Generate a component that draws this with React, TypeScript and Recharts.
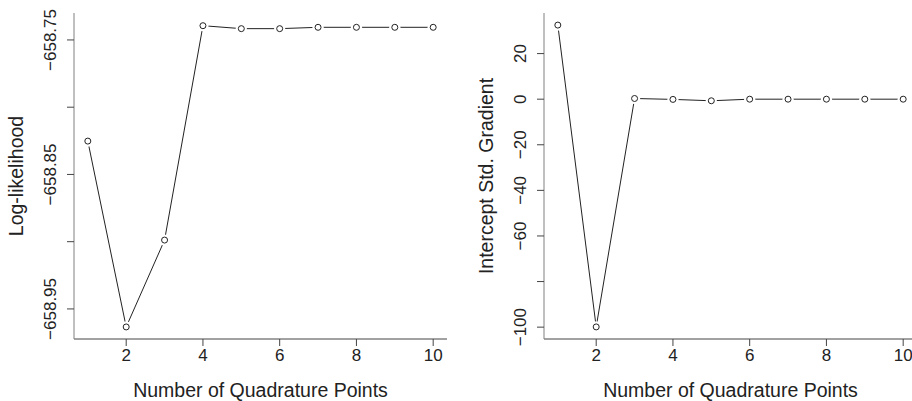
import React from "react";
import { LineChart, Line, XAxis, YAxis } from "recharts";

const quadPoints = [1, 2, 3, 4, 5, 6, 7, 8, 9, 10];
const logLik = [
  -658.8252, -658.9634, -658.8988, -658.7394, -658.7416, -658.7416, -658.7406, -658.7406,
  -658.7406, -658.7406,
];
const gradient = [32.5, -99.9, 0.3, -0.1, -0.7, 0, 0, 0, 0, 0];

const xTicks = [2, 4, 6, 8, 10];
const llTicks = [-658.95, -658.9, -658.85, -658.8, -658.75];
const llLabelled = [-658.95, -658.85, -658.75];
const gradTicks = [-100, -80, -60, -40, -20, 0, 20];
const gradLabelled = [-100, -60, -40, -20, 0, 20];

const FONT = '"Liberation Sans", Arial, Helvetica, sans-serif';
const TEXT = "#222";
const AXIS = "#444";
const BOX = "#808080";
const TITLE_SIZE = 19.5;

const llData = quadPoints.map((q, i) => ({ q, v: logLik[i] }));
const gradData = quadPoints.map((q, i) => ({ q, v: gradient[i] }));

const fmt = (v: number, digits: number) => v.toFixed(digits).replace("-", "\u2212");

function makeYTick(labelled: number[], digits: number) {
  return (props: any) => {
    const { x, y, payload } = props;
    const show = labelled.some((l) => Math.abs(l - payload.value) < 1e-6);
    if (!show) return <g />;
    return (
      <text
        transform={`translate(${x},${y}) rotate(-90)`}
        textAnchor="middle"
        fontFamily={FONT}
        fontSize={17}
        fill={TEXT}
      >
        {fmt(payload.value, digits)}
      </text>
    );
  };
}

const XTick = (props: any) => {
  const { x, y, payload } = props;
  return (
    <text x={x} y={y + 12.5} textAnchor="middle" fontFamily={FONT} fontSize={17} fill={TEXT}>
      {payload.value}
    </text>
  );
};

// open circle with a white halo, like R's type = "b"
const Dot = (props: any) => {
  const { cx, cy, index } = props;
  return (
    <g key={`d-${index}`}>
      <circle cx={cx} cy={cy} r={5.6} fill="#fff" stroke="none" />
      <circle cx={cx} cy={cy} r={3} fill="#fff" stroke={TEXT} strokeWidth={1} />
    </g>
  );
};

function xTitle(text: string) {
  return {
    content: (p: any) => {
      const vb = p.viewBox;
      return (
        <text
          x={vb.x + vb.width / 2}
          y={vb.y + 58}
          textAnchor="middle"
          fontFamily={FONT}
          fontSize={TITLE_SIZE}
          fill={TEXT}
        >
          {text}
        </text>
      );
    },
  };
}

function yTitle(text: string) {
  return {
    content: (p: any) => {
      const vb = p.viewBox;
      const cx = vb.x + vb.width - 51.5;
      const cy = vb.y + vb.height / 2;
      return (
        <text
          transform={`translate(${cx},${cy}) rotate(-90)`}
          textAnchor="middle"
          fontFamily={FONT}
          fontSize={TITLE_SIZE}
          fill={TEXT}
        >
          {text}
        </text>
      );
    },
  };
}

interface PanelProps {
  data: Array<Record<string, number>>;
  width: number;
  yWidth: number;
  yDomain: [number, number];
  yTicks: number[];
  yLabelled: number[];
  digits: number;
  yLabel: string;
  right: number;
}

function Panel({ data, width, yWidth, yDomain, yTicks, yLabelled, digits, yLabel, right }: PanelProps) {
  return (
    <LineChart width={width} height={401} data={data} margin={{ top: 13, right, bottom: 0, left: 0 }}>
      <XAxis
        dataKey="q"
        type="number"
        domain={[0.64, 10.36]}
        ticks={xTicks}
        allowDataOverflow
        height={62}
        tickSize={7}
        tickMargin={2}
        stroke={AXIS}
        tickLine={{ stroke: AXIS }}
        tick={XTick}
        label={xTitle("Number of Quadrature Points")}
      />
      <XAxis
        xAxisId="top"
        orientation="top"
        dataKey="q"
        type="number"
        domain={[0.64, 10.36]}
        height={0}
        tick={false}
        tickLine={false}
        stroke={BOX}
        strokeWidth={1.5}
      />
      <YAxis
        type="number"
        domain={yDomain}
        ticks={yTicks}
        allowDataOverflow
        width={yWidth}
        tickSize={7}
        tickMargin={11}
        stroke={BOX}
        tickLine={{ stroke: AXIS }}
        tick={makeYTick(yLabelled, digits)}
        label={yTitle(yLabel)}
      />
      <YAxis
        yAxisId="right"
        orientation="right"
        type="number"
        domain={yDomain}
        width={0}
        tick={false}
        tickLine={false}
        stroke={BOX}
        strokeWidth={1.5}
      />
      <Line
        dataKey="v"
        type="linear"
        stroke={TEXT}
        strokeWidth={1}
        dot={Dot}
        activeDot={false}
        isAnimationActive={false}
      />
    </LineChart>
  );
}

export default function App() {
  return (
    <div
      style={{
        position: "fixed",
        left: 0,
        top: 0,
        width: 912,
        height: 401,
        overflow: "hidden",
        background: "#fff",
      }}
    >
      <div style={{ position: "absolute", left: 0, top: 0 }}>
        <Panel
          data={llData}
          width={456}
          yWidth={74}
          yDomain={[-658.97236, -658.72996]}
          yTicks={llTicks}
          yLabelled={llLabelled}
          digits={2}
          yLabel="Log-likelihood"
          right={9}
        />
      </div>
      <div style={{ position: "absolute", left: 456, top: 0 }}>
        <Panel
          data={gradData}
          width={461}
          yWidth={88}
          yDomain={[-105.2, 37.8]}
          yTicks={gradTicks}
          yLabelled={gradLabelled}
          digits={0}
          yLabel="Intercept Std. Gradient"
          right={0}
        />
      </div>
    </div>
  );
}
